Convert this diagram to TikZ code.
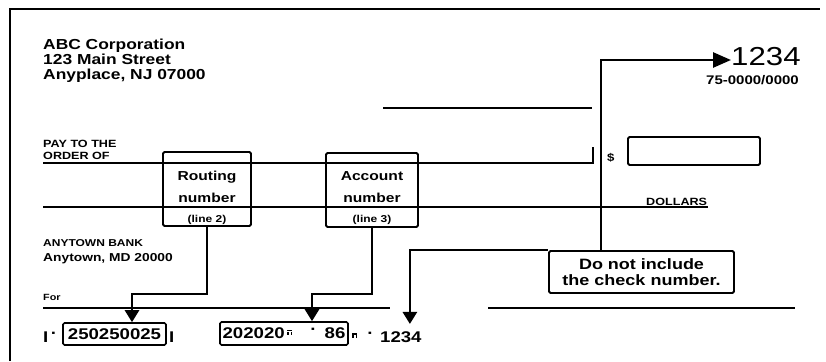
\documentclass[tikz,border=0pt]{standalone}
\usepackage{fontspec}
\setmainfont{Liberation Sans}[FakeStretch=1.2]
\usetikzlibrary{arrows.meta, positioning}

\newcommand{\fsz}[2]{\fontsize{#1}{#2}\selectfont}
% on-us mark, no installed font has it
\newcommand{\onus}{\raisebox{4pt}{\vbox{\offinterlineskip\hbox{\rule{5.2pt}{1.4pt}}\kern0.5pt\hbox{\rule{1.4pt}{3pt}\hspace{2.4pt}\rule{1.4pt}{3pt}}}}}

\begin{document}
\begin{tikzpicture}[x=1pt, y=-1pt,
		rule/.style={line width=1.6pt},
		chktext/.style={inner sep=0pt, anchor=base west, align=left},
		infobox/.style={rectangle, draw, line width=1.8pt, rounded corners=1.5pt, inner sep=0pt},
		boxlabel/.style={inner sep=0pt, anchor=base, align=center, font=\bfseries\fsz{13}{22}},
		micr/.style={inner sep=0pt, anchor=base west, font=\bfseries\fsz{15.5}{16}},
		conn/.style={line width=2.6pt, -{Triangle[length=12pt, width=14pt]}}
		]
		\useasboundingbox (0,0) rectangle (826,361);

		% check edge and printed lines
		\draw[line width=2.2pt] (10,361) -- (10,9) -- (820,9);
		\draw[rule] (383,108) -- (592,108);
		\draw[rule] (43,163) -- (593,163) -- (593,147);
		\draw[rule] (43,207) -- (708,207);
		\draw[rule] (43,308) -- (390,308);
		\draw[rule] (488,308) -- (795,308);

		% printed text
		\node[chktext, font=\bfseries\fsz{14.5}{15}] (firm) at (43,79) {ABC Corporation\\123 Main Street\\Anyplace, NJ 07000};
		\node[chktext, font=\bfseries\fsz{10.5}{12}] (payto) at (43,159) {PAY TO THE\\ORDER OF};
		\node[chktext, font=\bfseries\fsz{11.5}{15}] (bank) at (43,261) {{\fsz{10}{15}ANYTOWN BANK}\\Anytown, MD 20000};
		\node[chktext, font=\bfseries\fsz{9}{9}] (for) at (43,300) {For};
		\node[chktext, font=\bfseries\fsz{11}{11}] (dollar) at (607,161) {\$};
		\node[chktext, font=\bfseries\fsz{10.5}{11}] (dollars) at (646,205) {DOLLARS};
		\node[chktext, font=\fsz{26}{26}] (chkno) at (731,66) {1234};
		\node[chktext, font=\bfseries\fsz{12.5}{13}] (fraction) at (706,84) {75-0000/0000};
		\node[infobox, minimum width=132pt, minimum height=28pt] (amount) at (694,151) {};

		% callouts
		\node[infobox, minimum width=88pt, minimum height=74pt] (routing) at (207,189) {};
		\node[boxlabel] (routtxt) at (207,202) {Routing\\number};
		\node[boxlabel, font=\bfseries\fsz{10}{10}] (routline) at (207,222) {(line 2)};
		\node[infobox, minimum width=92pt, minimum height=74pt] (account) at (372,190) {};
		\node[boxlabel] (accttxt) at (372,202) {Account\\number};
		\node[boxlabel, font=\bfseries\fsz{10}{10}] (acctline) at (372,222) {(line 3)};
		\node[infobox, minimum width=185pt, minimum height=42pt, align=center, font=\bfseries\fsz{15}{16}] (note) at (641.5,272) {Do not include\\the check number.};

		% MICR line
		\node[micr] (transit) at (43,342) {I\,\raisebox{4pt}{·}};
		\node[infobox, line width=1.6pt, minimum width=103pt, minimum height=22pt, font=\bfseries\fsz{15.5}{16}] (micrrout) at (114.5,334) {250250025};
		\node[micr] (transitend) at (169,342) {I};
		\node[infobox, line width=1.6pt, minimum width=128pt, minimum height=23pt, font=\bfseries\fsz{15.5}{16}] (micracct) at (284,333.5) {202020\,\onus\hspace{18pt}\raisebox{4pt}{·}\hspace{8pt}86};
		\node[micr] (onusend) at (352,342) {\onus\hspace{10pt}\raisebox{4pt}{·}};
		\node[micr] (micrno) at (380,342) {1234};

		\draw[conn] (routing.south) -- ++(0,67) -| ([xshift=17.5pt]micrrout.north);
		\draw[conn] (account.south) -- ++(0,66) -| ([xshift=28pt]micracct.north);
		\draw[conn, -{Triangle[length=18pt, width=15pt]}] ([xshift=53pt]note.north west) |- ([yshift=6pt]chkno.base west);
		\draw[conn] (note.north west) -| ([xshift=9pt, yshift=7pt]micrno.north);
	\end{tikzpicture}
\end{document}
